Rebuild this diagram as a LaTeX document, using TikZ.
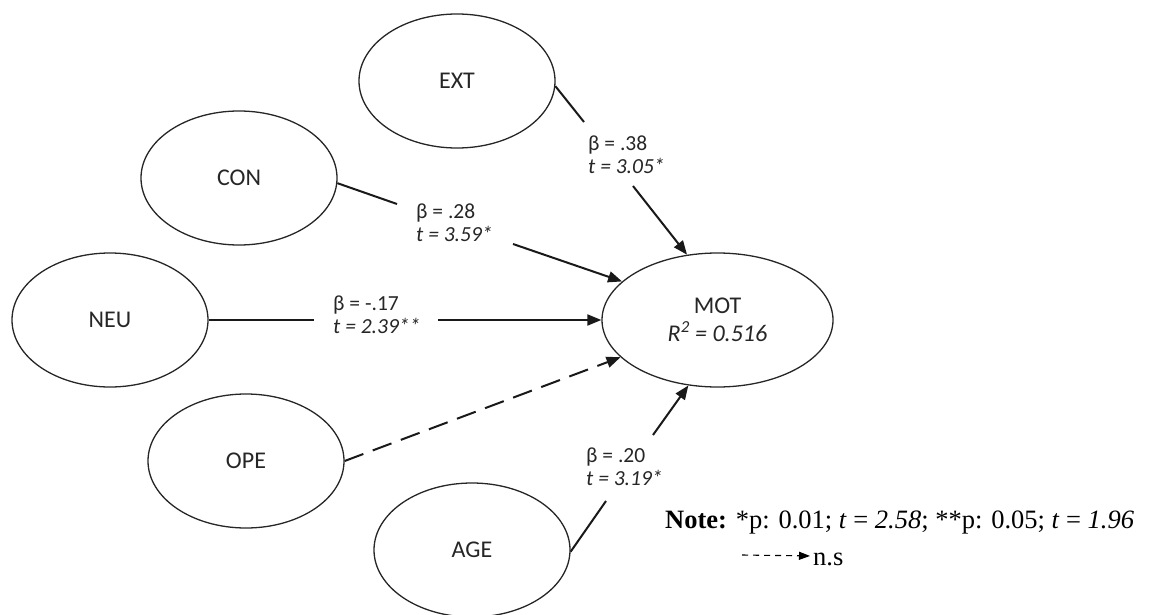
\documentclass[tikz,border=0pt]{standalone}
\usepackage{fontspec}
\setmainfont{Carlito}
\newfontfamily\notefont{Liberation Serif}
\usetikzlibrary{shapes.geometric,arrows.meta}
\begin{document}
\begin{tikzpicture}[x=1pt,y=-1pt,
  latent/.style={ellipse,draw=black!85,line width=1.3pt,minimum width=196pt,minimum height=134pt,inner sep=0pt,font=\fontsize{24}{28}\selectfont,text=black!85,align=center},
  link/.style={draw=black!90,line width=2pt},
  arrow/.style={link,-{Triangle[length=14pt,width=11pt]}},
  nsarrow/.style={arrow,dash pattern=on 20pt off 10pt},
  coef/.style={font=\fontsize{21.5}{23}\selectfont,text=black!85,align=left,anchor=west,inner sep=0pt},
  notetext/.style={font=\notefont\fontsize{26.5}{30}\selectfont,anchor=base west,inner sep=0pt}]
\path[use as bounding box] (0,0) rectangle (1153,615);

\node[latent] (EXT) at (457,81) {EXT};
\node[latent] (CON) at (239,178) {CON};
\node[latent] (NEU) at (110,320) {NEU};
\node[latent] (OPE) at (246,461) {OPE};
\node[latent] (AGE) at (472,550) {AGE};
\node[latent,minimum width=231pt] (MOT) at (717.5,320) {MOT\\\textit{R}\textsuperscript{\itshape 2}\textit{ = 0.516}};

\node[coef] (lEXT) at (588,155) {β = .38\\\textit{t = 3.05*}};
\node[coef] (lCON) at (416,223) {β = .28\\\textit{t = 3.59*}};
\node[coef] (lNEU) at (333,315) {β = -.17\\\textit{t = 2.39**}};
\node[coef] (lAGE) at (586,467) {β = .20\\\textit{t = 3.19*}};

\coordinate (e1) at (584,122); \coordinate (e2) at (633,186);
\draw[link] (EXT.-3) -- (e1);
\draw[arrow] (e2) -- (MOT.115);
\coordinate (c1) at (397,204); \coordinate (c2) at (513,244);
\draw[link] (CON.-3) -- (c1);
\draw[arrow] (c2) -- (MOT.158);
\coordinate (n1) at (314,320); \coordinate (n2) at (438,320);
\draw[link] (NEU.east) -- (n1);
\draw[arrow] (n2) -- (MOT.west);
\draw[nsarrow] (OPE.east) -- (MOT.201);
\coordinate (a1) at (606,501); \coordinate (a2) at (653,435);
\draw[link] (AGE.-1) -- (a1);
\draw[arrow] (a2) -- (MOT.246);

\node[notetext] (note) at (665,528) {\textbf{Note:} *p: 0.01; \textit{t} = \textit{2.58}; **p: 0.05; \textit{t} = \textit{1.96}};
\node[notetext] (ns) at (813,565) {n.s};
\coordinate (d1) at (742,555);
\draw[line width=1.1pt,dash pattern=on 6pt off 5pt,-{Triangle[length=11pt,width=8pt]}] (d1) -- ([xshift=-3pt,yshift=3pt]ns.west);
\end{tikzpicture}
\end{document}
